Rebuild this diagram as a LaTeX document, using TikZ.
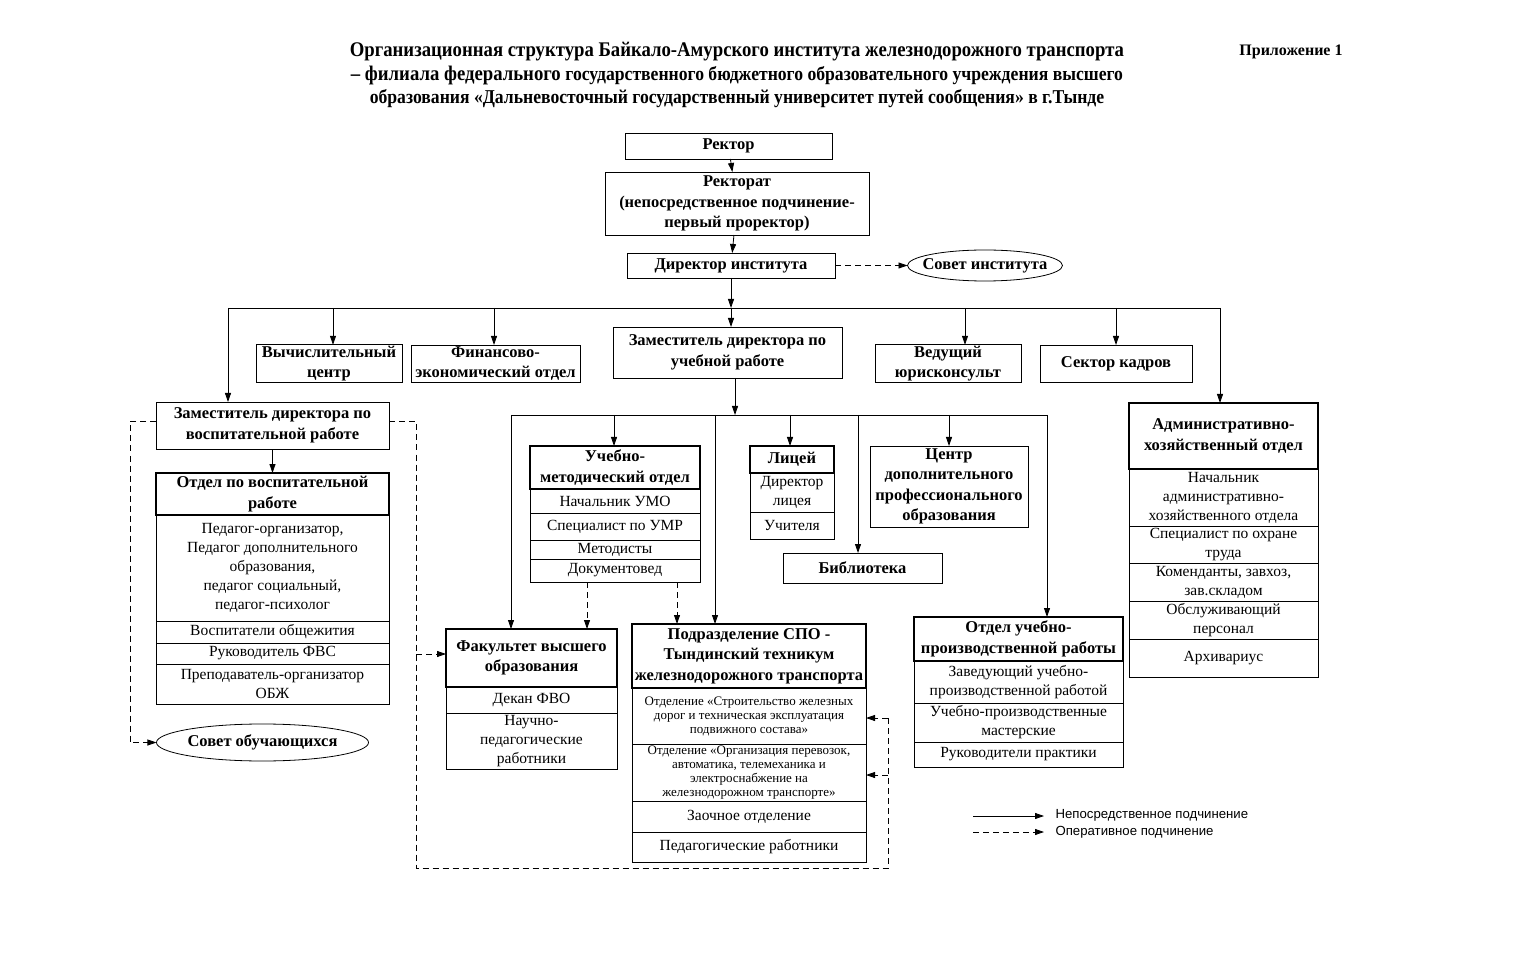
\documentclass[tikz,border=0pt]{standalone}
\usepackage{fontspec}
\setmainfont{Liberation Serif}
\newfontfamily\titlefont[FakeStretch=0.9]{Liberation Serif}
\newfontfamily\legendfont{Liberation Sans}
\usetikzlibrary{arrows.meta,shapes.geometric}

% box from corner to corner: style, name, x1, y1, x2, y2, text
\newcommand{\cellbox}[7]{%
  \node[#1, minimum width={#5-#3}, minimum height={#6-#4}] (#2) at ({(#3+#5)/2},{(#4+#6)/2}) {#7};}

\tikzset{
  unit/.style={draw, rectangle, line width=0.8pt, inner sep=1pt, outer sep=0pt, align=center,
    font=\fontsize{16.5}{20.5}\selectfont\bfseries},
  head/.style={unit, line width=1.8pt},
  row/.style={draw, rectangle, line width=0.8pt, inner sep=1pt, outer sep=0pt, align=center,
    font=\fontsize{15.5}{19}\selectfont},
  smallrow/.style={row, font=\fontsize{13}{14}\selectfont},
  council/.style={draw, ellipse, line width=0.8pt, inner sep=0pt, outer sep=0pt,
    font=\fontsize{16.5}{20}\selectfont\bfseries},
  titleline/.style={inner sep=0pt, font=\titlefont\bfseries},
  legendtext/.style={anchor=west, font=\legendfont\fontsize{13.2}{15}\selectfont},
  link/.style={line width=0.8pt},
  sub/.style={link, -{Triangle[length=9pt,width=6pt]}},
  oper/.style={sub, dash pattern=on 6pt off 4pt},
  operline/.style={link, dash pattern=on 6pt off 4pt},
}

\begin{document}
\begin{tikzpicture}[x=1pt,y=-1pt]
    \useasboundingbox (0,0) rectangle (1513,965);

    % title
    \node[titleline] (title1) at (737,52) {\fontsize{20.8}{23}\selectfont Организационная структура Байкало-Амурского института железнодорожного транспорта};
    \node[titleline] (title2) at (737,76) {\fontsize{20.8}{23}\selectfont – филиала федерального \fontsize{19.6}{23}\selectfont государственного бюджетного образовательного учреждения высшего};
    \node[titleline] (title3) at (737,99) {\fontsize{19.6}{23}\selectfont образования «Дальневосточный государственный университет путей сообщения» в г.Тынде};
    \node[font=\fontsize{16}{19}\selectfont\bfseries] (appx) at (1291,52) {Приложение 1};

    % top of the chart
    \cellbox{unit}{rector}{625}{133}{832}{159}{Ректор}
    \cellbox{unit}{rectorat}{605}{172}{869}{235}{Ректорат\\(непосредственное подчинение-\\первый проректор)}
    \cellbox{unit}{dir}{627}{253}{835}{278}{Директор института}
    \node[council, inner xsep=-8pt, minimum width=155, minimum height=31] (sovet) at (985,265.5) {Совет института};

    \draw[sub] (rector) -- (rectorat);
    \draw[sub] (rectorat) -- (dir);
    \draw[oper] (dir) -- (sovet);

    % second level
    \cellbox{unit}{vc}{256}{345}{402}{382}{Вычислительный\\центр}
    \cellbox{unit}{fin}{411}{345}{580}{382}{Финансово-\\экономический отдел}
    \cellbox{unit}{zu}{613}{327}{842}{378}{Заместитель директора по\\учебной работе}
    \cellbox{unit}{jur}{875}{345}{1021}{382}{Ведущий\\юрисконсульт}
    \cellbox{unit}{kadr}{1040}{345}{1192}{382}{Сектор кадров}
    \cellbox{unit}{zv}{156}{402}{389}{449}{Заместитель директора по\\воспитательной работе}

    % administration department
    \cellbox{row}{ahd1}{1129}{469}{1318}{526}{Начальник\\административно-\\хозяйственного отдела}
    \cellbox{row}{ahd2}{1129}{526}{1318}{563}{Специалист по охране\\труда}
    \cellbox{row}{ahd3}{1129}{563}{1318}{601}{Коменданты, завхоз,\\зав.складом}
    \cellbox{row}{ahd4}{1129}{601}{1318}{639}{Обслуживающий\\персонал}
    \cellbox{row}{ahd5}{1129}{639}{1318}{677}{Архивариус}
    \cellbox{head}{ahd}{1129}{403}{1318}{469}{Административно-\\хозяйственный отдел}

    % bus under the director
    \coordinate (bus) at (731,308);
    \foreach \n/\x in {zv/228, vc/333, fin/494, jur/965, kadr/1116, ahd/1220}
      \coordinate (b\n) at (\x,308);
    \draw[sub] (dir.south) -- (bus);
    \draw[link] (bzv) -- (bahd);
    \draw[sub] (bus) -- (bus |- zu.north);
    \foreach \n in {zv, vc, fin, jur, kadr, ahd}
      \draw[sub] (b\n) -- (b\n |- \n.north);

    % educational work
    \cellbox{row}{ovr1}{156}{515}{389}{621}{Педагог-организатор,\\Педагог дополнительного\\образования,\\педагог социальный,\\педагог-психолог}
    \cellbox{row}{ovr2}{156}{621}{389}{643}{Воспитатели общежития}
    \cellbox{row}{ovr3}{156}{643}{389}{664}{Руководитель ФВС}
    \cellbox{row}{ovr4}{156}{664}{389}{704}{Преподаватель-организатор\\ОБЖ}
    \cellbox{head}{ovr}{156}{473}{389}{515}{Отдел по воспитательной\\работе}
    \node[council, minimum width=211, minimum height=37] (so) at (262.5,742.5) {Совет обучающихся};
    \draw[sub] (zv) -- (ovr);

    % academic work
    \cellbox{row}{umo1}{530}{489}{700}{513}{Начальник УМО}
    \cellbox{row}{umo2}{530}{513}{700}{540}{Специалист по УМР}
    \cellbox{row}{umo3}{530}{540}{700}{559}{Методисты}
    \cellbox{row}{umo4}{530}{559}{700}{582}{Документовед}
    \cellbox{head}{umo}{530}{446}{700}{489}{Учебно-\\методический отдел}

    \cellbox{row}{lic1}{750}{473}{834}{512}{Директор\\лицея}
    \cellbox{row}{lic2}{750}{512}{834}{539}{Учителя}
    \cellbox{head}{lic}{750}{446}{834}{473}{Лицей}

    \cellbox{unit}{cdpo}{870}{446}{1028}{527}{Центр\\дополнительного\\профессионального\\образования}
    \cellbox{unit}{bib}{783}{553}{942}{583}{Библиотека}

    \cellbox{row}{fvo1}{446}{687}{617}{713}{Декан ФВО}
    \cellbox{row}{fvo2}{446}{713}{617}{769}{Научно-\\педагогические\\работники}
    \cellbox{head}{fvo}{446}{629}{617}{687}{Факультет высшего\\образования}

    \cellbox{smallrow}{spo1}{632}{688}{866}{744}{Отделение «Строительство железных\\дорог и техническая эксплуатация\\подвижного состава»}
    \cellbox{smallrow}{spo2}{632}{744}{866}{801}{Отделение «Организация перевозок,\\автоматика, телемеханика и\\электроснабжение на\\железнодорожном транспорте»}
    \cellbox{row}{spo3}{632}{801}{866}{832}{Заочное отделение}
    \cellbox{row}{spo4}{632}{832}{866}{862}{Педагогические работники}
    \cellbox{head}{spo}{632}{624}{866}{688}{Подразделение СПО -\\Тындинский техникум\\железнодорожного транспорта}

    \cellbox{row}{upr1}{914}{661}{1123}{703}{Заведующий учебно-\\производственной работой}
    \cellbox{row}{upr2}{914}{703}{1123}{742}{Учебно-производственные\\мастерские}
    \cellbox{row}{upr3}{914}{742}{1123}{767}{Руководители практики}
    \cellbox{head}{upr}{914}{617}{1123}{661}{Отдел учебно-\\производственной работы}

    % bus under the academic deputy
    \coordinate (bus2) at (735,415);
    \foreach \n/\x in {fvo/511, umo/614, spo/715, lic/790, bib/858, cdpo/949, upr/1047}
      \coordinate (c\n) at (\x,415);
    \draw[sub] (bus2 |- zu.south) -- (bus2);
    \draw[link] (cfvo) -- (cupr);
    \foreach \n in {fvo, umo, spo, lic, bib, cdpo, upr}
      \draw[sub] (c\n) -- (c\n |- \n.north);
    \draw[oper] ([xshift=-28pt]umo4.south) -- ([xshift=-28pt]umo4.south |- fvo.north);
    \draw[oper] ([xshift=62pt]umo4.south) -- ([xshift=62pt]umo4.south |- spo.north);

    % operative links of the educational deputy
    \coordinate (dl) at (130,742.5);
    \coordinate (dr) at (416,868);
    \coordinate (df) at (416,654);
    \coordinate (dq) at (888,718);
    \coordinate (dq2) at (888,775);
    \draw[oper] ([yshift=4pt]zv.west) -| (dl) -- (so);
    \draw[operline] ([yshift=4pt]zv.east) -| (dr) -| (dq);
    \draw[oper] (df) -- (df -| fvo.west);
    \draw[oper] (dq) -- (dq -| spo1.east);
    \draw[oper] (dq2) -- (dq2 -| spo2.east);

    % legend
    \coordinate (l1) at (973,816);
    \coordinate (l2) at (973,832);
    \node[legendtext] (t1) at (1052,815) {Непосредственное подчинение};
    \node[legendtext] (t2) at (1052,832) {Оперативное подчинение};
    \draw[sub] (l1) -- ([xshift=-8pt]l1 -| t1.west);
    \draw[oper] (l2) -- ([xshift=-8pt]l2 -| t2.west);
\end{tikzpicture}
\end{document}
